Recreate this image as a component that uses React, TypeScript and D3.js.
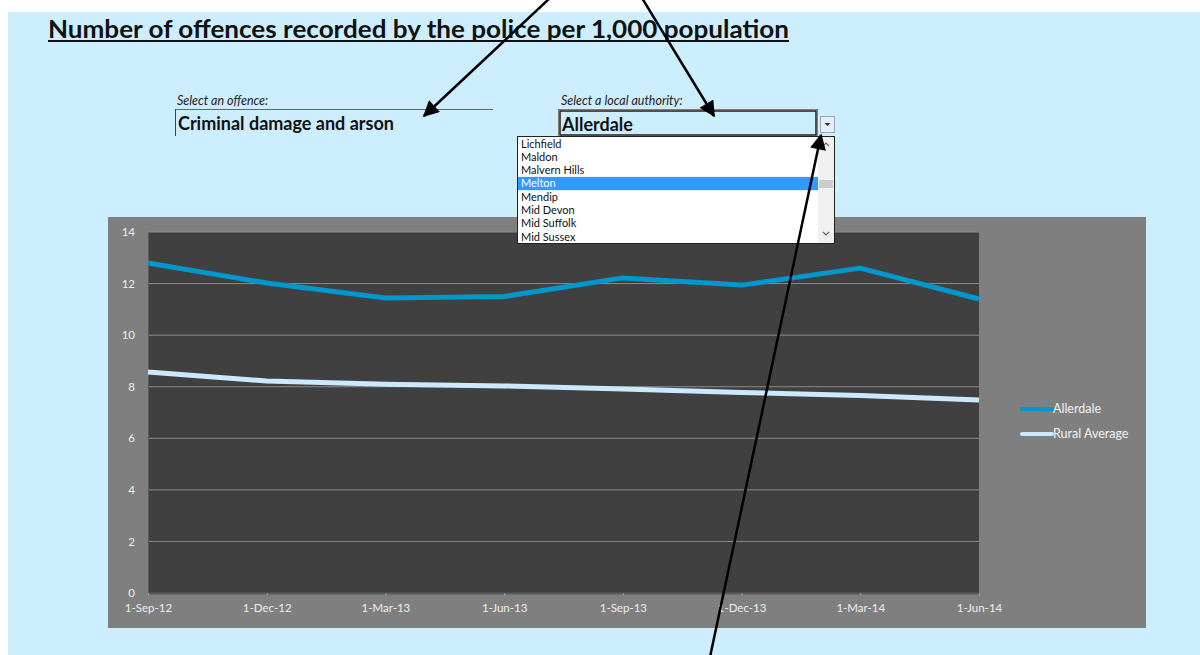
import * as d3 from "d3";
import { useRef, useEffect } from "react";

const quarters = ["1-Sep-12", "1-Dec-12", "1-Mar-13", "1-Jun-13", "1-Sep-13", "1-Dec-13", "1-Mar-14", "1-Jun-14"];
const allerdale = [12.8, 12.02, 11.44, 11.5, 12.22, 11.94, 12.6, 11.4];
const ruralAverage = [8.57, 8.22, 8.1, 8.03, 7.91, 7.78, 7.66, 7.48];
const yTicks = [0, 2, 4, 6, 8, 10, 12, 14];
const authorities = ["Lichfield", "Maldon", "Malvern Hills", "Melton", "Mendip", "Mid Devon", "Mid Suffolk", "Mid Sussex"];
const selectedAuthority = "Melton";

const font = "Lato, 'Open Sans', sans-serif";

export default function App() {
  const ref = useRef<SVGSVGElement | null>(null);

  useEffect(() => {
    const svg = d3.select(ref.current);
    svg.selectAll("*").remove();

    const width = 1200;
    const height = 655;
    const chart = { left: 108, top: 217, right: 1146, bottom: 628 };
    const plot = { left: 148, top: 232, right: 979, bottom: 593 };

    svg.append("rect").attr("width", width).attr("height", height).attr("fill", "#fff");
    svg.append("rect").attr("x", 8).attr("y", 12).attr("width", width - 8).attr("height", height - 12).attr("fill", "#cdeeff");

    // title
    svg.append("text")
      .attr("x", 48).attr("y", 38)
      .attr("font-family", font).attr("font-weight", "bold").attr("font-size", 24)
      .attr("textLength", 741).attr("lengthAdjust", "spacingAndGlyphs")
      .attr("fill", "#111")
      .text("Number of offences recorded by the police per 1,000 population");
    svg.append("line").attr("x1", 48).attr("x2", 789).attr("y1", 41).attr("y2", 41)
      .attr("stroke", "#111").attr("stroke-width", 2);

    // offence selector
    svg.append("text").attr("x", 177).attr("y", 105)
      .attr("font-family", font).attr("font-style", "italic").attr("font-size", 12.5).attr("fill", "#222")
      .text("Select an offence:");
    svg.append("line").attr("x1", 175).attr("x2", 493).attr("y1", 109.5).attr("y2", 109.5).attr("stroke", "#666");
    svg.append("line").attr("x1", 175.5).attr("x2", 175.5).attr("y1", 109).attr("y2", 136).attr("stroke", "#444");
    svg.append("text").attr("x", 178).attr("y", 130)
      .attr("font-family", font).attr("font-weight", "bold").attr("font-size", 18).attr("fill", "#111")
      .text("Criminal damage and arson");

    // authority selector
    svg.append("text").attr("x", 561).attr("y", 105)
      .attr("font-family", font).attr("font-style", "italic").attr("font-size", 12.5).attr("fill", "#222")
      .text("Select a local authority:");
    svg.append("rect").attr("x", 558.5).attr("y", 109.5).attr("width", 259).attr("height", 27)
      .attr("fill", "none").attr("stroke", "#8a7a70").attr("stroke-width", 1);
    svg.append("rect").attr("x", 560).attr("y", 111).attr("width", 256).attr("height", 24)
      .attr("fill", "none").attr("stroke", "#2b1a12").attr("stroke-width", 1.5);
    svg.append("text").attr("x", 562).attr("y", 131)
      .attr("font-family", font).attr("font-weight", "bold").attr("font-size", 18).attr("fill", "#111")
      .text("Allerdale");
    svg.append("rect").attr("x", 820.5).attr("y", 116.5).attr("width", 14).attr("height", 16)
      .attr("fill", "#e8eef6").attr("stroke", "#9aa7b8");
    svg.append("path").attr("d", "M824.5,123 L830.5,123 L827.5,126 Z").attr("fill", "#334");

    // chart background
    svg.append("rect").attr("x", chart.left).attr("y", chart.top)
      .attr("width", chart.right - chart.left).attr("height", chart.bottom - chart.top).attr("fill", "#7f7f7f");
    svg.append("rect").attr("x", plot.left).attr("y", plot.top)
      .attr("width", plot.right - plot.left).attr("height", plot.bottom - plot.top).attr("fill", "#404040");

    const x = d3.scalePoint<string>().domain(quarters).range([plot.left, plot.right]);
    const y = d3.scaleLinear().domain([0, 14]).range([plot.bottom, plot.top]);

    // gridlines
    svg.append("g").selectAll("line").data(yTicks.filter(t => t > 0)).join("line")
      .attr("x1", plot.left).attr("x2", plot.right)
      .attr("y1", d => y(d)).attr("y2", d => y(d))
      .attr("stroke", "#8a8a8a").attr("stroke-width", 1);

    // y axis
    const yAxis = svg.append("g")
      .attr("transform", `translate(${plot.left},0)`)
      .call(d3.axisLeft(y).tickValues(yTicks).tickSize(0).tickPadding(13));
    yAxis.select(".domain").attr("stroke", "#5a5a5a");
    yAxis.selectAll("text").attr("font-family", font).attr("font-size", 11.5).attr("fill", "#eee");

    // x axis
    const xAxis = svg.append("g")
      .attr("transform", `translate(0,${plot.bottom})`)
      .call(d3.axisBottom(x).tickSize(3).tickSizeOuter(0).tickPadding(8));
    xAxis.select(".domain").attr("stroke", "#5a5a5a").attr("stroke-width", 2);
    xAxis.selectAll(".tick line").attr("stroke", "#999");
    xAxis.selectAll("text").attr("font-family", font).attr("font-size", 11.5).attr("fill", "#eee");

    const line = d3.line<number>().x((_, i) => x(quarters[i]) as number).y(d => y(d));

    const series = [
      { name: "Rural Average", values: ruralAverage, color: "#cceaff" },
      { name: "Allerdale", values: allerdale, color: "#0097cc" },
    ];

    svg.append("g").selectAll("path").data(series).join("path")
      .attr("d", d => line(d.values))
      .attr("fill", "none").attr("stroke", d => d.color).attr("stroke-width", 5)
      .attr("stroke-linejoin", "round");

    // legend
    const legend = svg.append("g").selectAll("g").data([series[1], series[0]]).join("g")
      .attr("transform", (_, i) => `translate(1022,${409 + i * 25})`);
    legend.append("line").attr("x1", 0).attr("x2", 30).attr("stroke", d => d.color)
      .attr("stroke-width", 4).attr("stroke-linecap", "round");
    legend.append("text").attr("x", 31).attr("y", 4)
      .attr("font-family", font).attr("font-size", 12.5).attr("fill", "#f2f2f2")
      .text(d => d.name);

    // dropdown list
    const list = { left: 517, top: 136, right: 834, bottom: 243 };
    svg.append("rect").attr("x", list.left + 0.5).attr("y", list.top + 0.5)
      .attr("width", list.right - list.left).attr("height", list.bottom - list.top)
      .attr("fill", "#fff").attr("stroke", "#222");
    const rowH = 13.3;
    const rows = svg.append("g").selectAll("g").data(authorities).join("g")
      .attr("transform", (_, i) => `translate(${list.left + 1},${list.top + 1 + i * rowH})`);
    rows.append("rect").attr("width", 300).attr("height", rowH)
      .attr("fill", d => d === selectedAuthority ? "#3399ff" : "none");
    rows.append("text").attr("x", 3).attr("y", 10.5)
      .attr("font-family", font).attr("font-size", 11)
      .attr("fill", d => d === selectedAuthority ? "#fff" : "#111")
      .text(d => d);
    svg.append("rect").attr("x", 818).attr("y", list.top + 1).attr("width", 16).attr("height", list.bottom - list.top - 1)
      .attr("fill", "#f0f0f0");
    svg.append("rect").attr("x", 819).attr("y", 180).attr("width", 14).attr("height", 8).attr("fill", "#cdcdcd");
    svg.append("path").attr("d", "M823,146 L826,143 L829,146").attr("fill", "none").attr("stroke", "#666").attr("stroke-width", 1.2);
    svg.append("path").attr("d", "M823,232 L826,235 L829,232").attr("fill", "none").attr("stroke", "#666").attr("stroke-width", 1.2);

    // annotation arrows
    const defs = svg.append("defs");
    defs.append("marker").attr("id", "head").attr("viewBox", "0 0 10 10")
      .attr("refX", 9).attr("refY", 5)
      .attr("markerUnits", "userSpaceOnUse").attr("orient", "auto")
      .attr("markerWidth", 18).attr("markerHeight", 16)
      .append("path").attr("d", "M0,0 L10,5 L0,10 Z").attr("fill", "#000");
    const arrows = [
      [550, -2, 424, 116],
      [642, -2, 714, 116],
      [710, 657, 821, 135],
    ];
    svg.append("g").selectAll("line").data(arrows).join("line")
      .attr("x1", d => d[0]).attr("y1", d => d[1]).attr("x2", d => d[2]).attr("y2", d => d[3])
      .attr("stroke", "#000").attr("stroke-width", 2.5).attr("marker-end", "url(#head)");
  }, []);

  return (
    <svg ref={ref} width={1200} height={655}
      style={{ position: "absolute", left: 0, top: 0, display: "block" }} />
  );
}
